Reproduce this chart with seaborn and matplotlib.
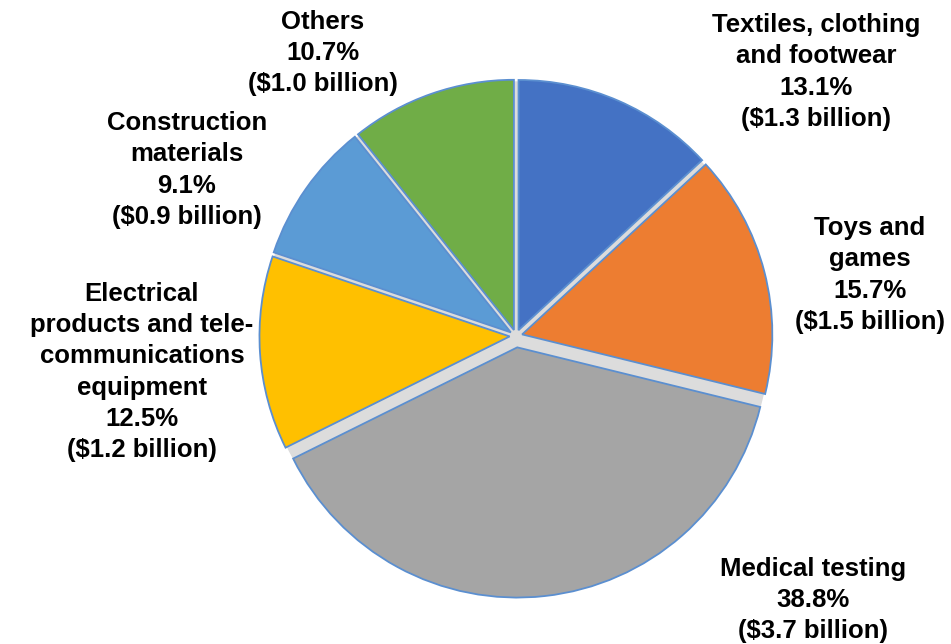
import matplotlib
matplotlib.use("Agg")
import matplotlib.pyplot as plt
import seaborn as sns
import numpy as np

sns.set_theme(style="white")
plt.rcParams['font.family'] = ['Liberation Sans', 'DejaVu Sans']

categories = ["Textiles, clothing\nand footwear", "Toys and\ngames", "Medical testing",
              "Electrical\nproducts and tele-\ncommunications\nequipment",
              "Construction\nmaterials", "Others"]
shares = [13.1, 15.7, 38.8, 12.5, 9.1, 10.7]
billions = [1.3, 1.5, 3.7, 1.2, 0.9, 1.0]
colors = ["#4472C4", "#ED7D31", "#A5A5A5", "#FFC000", "#5B9BD5", "#70AD47"]

# label centres in pixels (x, y from top)
label_pos = [(816, 72), (870, 275), (813, 600), (142, 372), (187, 170), (323, 53)]

W, H = 951, 644
cx, cy, R = 516, 336, 254

fig = plt.figure(figsize=(W / 100, H / 100), dpi=100)
ax = fig.add_axes([0, 0, 1, 1])

# light grey backdrop shows through the gaps between slices
ax.add_patch(plt.Circle((0, 0), 1.0, color="#dcdcdc", zorder=0))

wedges, _ = ax.pie(shares, colors=colors, startangle=90, counterclock=False,
                   radius=0.985, explode=[0.025, 0.025, 0.045, 0.025, 0.025, 0.025],
                   wedgeprops=dict(edgecolor="#5B8FD0", linewidth=1.3))

ax.set_xlim(-cx / R, (W - cx) / R)
ax.set_ylim(-(H - cy) / R, cy / R)
ax.set_aspect("equal")
ax.axis("off")

for cat, s, b, (px, py) in zip(categories, shares, billions, label_pos):
    ax.text((px - cx) / R, (cy - py) / R, f"{cat}\n{s}%\n(${b} billion)",
            ha="center", va="center", fontsize=18.5, fontweight="bold",
            linespacing=1.38, color="black")

fig.savefig("out.png", dpi=100)
